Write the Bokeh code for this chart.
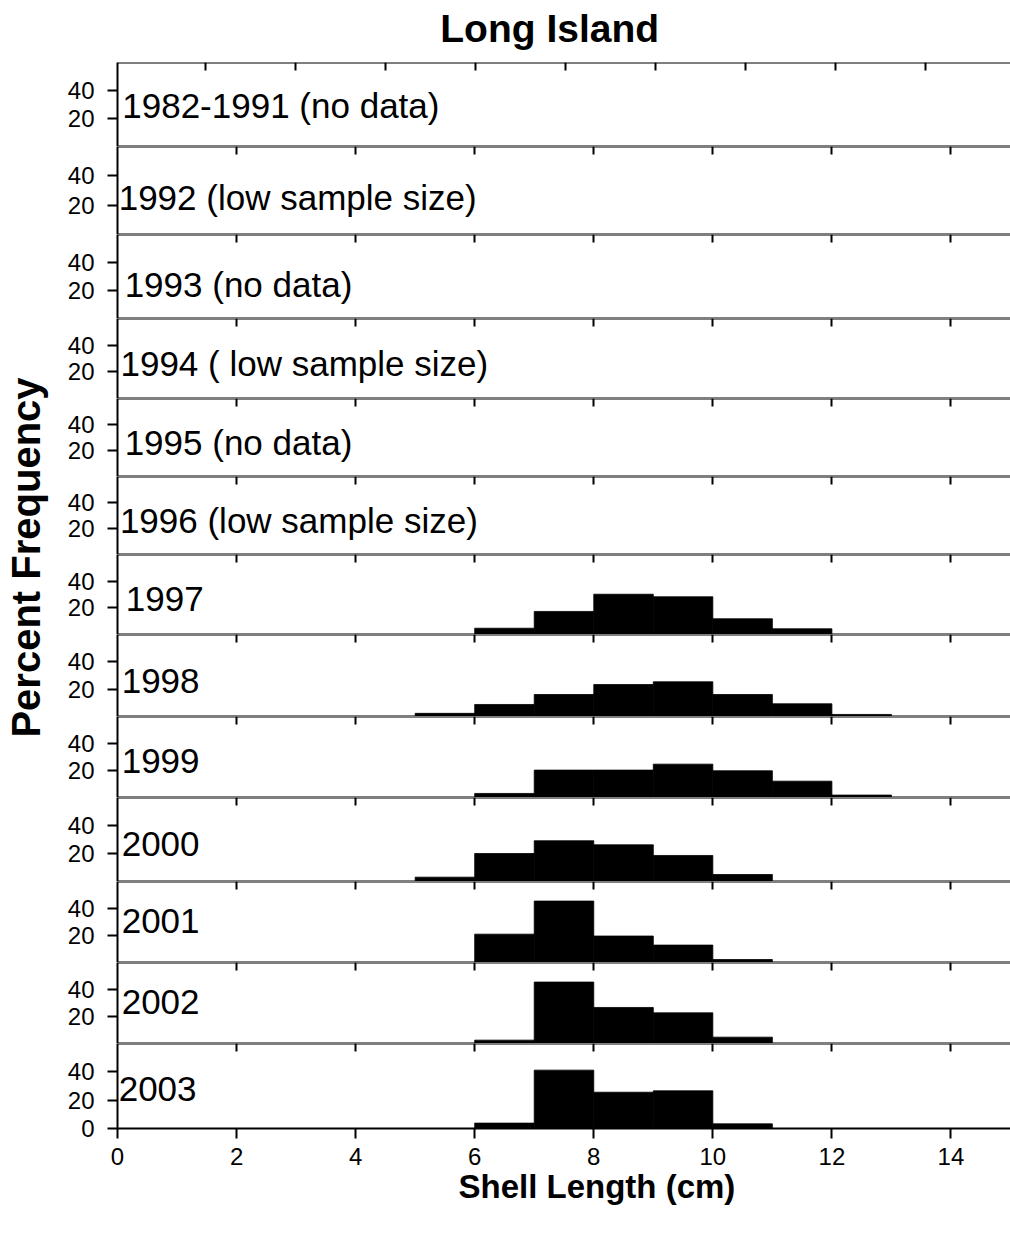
from bokeh.plotting import figure
from bokeh.layouts import column, row
from bokeh.models import Range1d, FixedTicker, LinearAxis, Title
from bokeh.core.properties import value
from bokeh.embed import file_html
from bokeh.resources import INLINE
from bokeh.core.validation import silence
from bokeh.core.validation.warnings import MISSING_RENDERERS

silence(MISSING_RENDERERS, True)

# Shell-length bins (cm), left edges of 1 cm classes
bin_left = [5, 6, 7, 8, 9, 10, 11, 12]

# Percent frequency per bin, by sampling year
f1997 = [0.0, 4.7, 17.3, 30.2, 28.3, 11.8, 4.3, 0.0]
f1998 = [2.3, 8.8, 16.1, 23.4, 25.4, 16.1, 9.3, 1.5]
f1999 = [0.0, 3.0, 20.3, 20.3, 24.7, 19.8, 12.1, 1.8]
f2000 = [3.1, 20.0, 29.1, 26.2, 18.6, 5.0, 0.0, 0.0]
f2001 = [0.0, 21.0, 45.5, 19.6, 12.9, 2.2, 0.0, 0.0]
f2002 = [0.0, 2.5, 45.5, 26.7, 22.7, 4.7, 0.0, 0.0]
f2003 = [0.0, 3.8, 41.2, 25.6, 26.6, 3.3, 0.0, 0.0]
empty = [0.0] * len(bin_left)

panel_labels = [
    "1982-1991 (no data)",
    "1992 (low sample size)",
    "1993 (no data)",
    "1994 ( low sample size)",
    "1995 (no data)",
    "1996 (low sample size)",
    "1997", "1998", "1999", "2000", "2001", "2002", "2003",
]
panel_series = [empty, empty, empty, empty, empty, empty,
                f1997, f1998, f1999, f2000, f2001, f2002, f2003]

x_ticks = [0, 2, 4, 6, 8, 10, 12, 14]
top_ticks_first = [1.48, 2.99, 4.50, 6.02, 7.53, 9.04, 10.55, 12.06, 13.57]
top_ticks = [2, 4, 6, 8, 10, 12, 14]
y_ticks = [20, 40]
y_ticks_last = [0, 20, 40]

title_text = "Long Island"
x_title = "Shell Length (cm)"
y_title = "Percent Frequency"

# Layout settings
FONT = "Liberation Sans"
frame_heights = [84, 88, 84, 80, 78, 78, 80, 82, 81, 84, 81, 81, 85]
label_pos = [(0.08, 29.3), (0.02, 25.2), (0.12, 24.3), (0.05, 26.3), (0.12, 26.2),
             (0.04, 26.2), (0.14, 27.0), (0.07, 26.3), (0.07, 27.4), (0.07, 27.1),
             (0.07, 31.1), (0.07, 30.4), (0.02, 28.2)]
TOTAL_H = 1233
YLAB_W = 60
LEFT = 117 - YLAB_W
FRAME_W = 893
TITLE_H = 62
BOTTOM_H = TOTAL_H - TITLE_H - sum(frame_heights)


def plain_axis(ticks, tick_in=0, tick_out=0, fixed=None):
    """Black axis line with optional ticks and no tick labels."""
    ax = LinearAxis(ticker=FixedTicker(ticks=ticks),
                    major_tick_in=tick_in, major_tick_out=tick_out,
                    minor_tick_in=0, minor_tick_out=0,
                    axis_line_width=2, axis_line_color="black",
                    major_tick_line_width=2, major_tick_line_color="black",
                    major_label_text_color=None, major_label_standoff=0)
    if fixed is not None:
        ax.fixed_location = fixed
    return ax


x_range = Range1d(0, 15)

# chart title strip, sharing the panels' x scale
title_fig = figure(frame_width=FRAME_W, frame_height=TITLE_H,
                   x_range=x_range, y_range=Range1d(0, TITLE_H),
                   output_backend="svg", toolbar_location=None,
                   x_axis_location=None, y_axis_location=None,
                   min_border_left=LEFT, min_border_right=0,
                   min_border_top=0, min_border_bottom=0,
                   outline_line_color=None,
                   background_fill_color="white", border_fill_color="white")
title_fig.grid.visible = False
title_fig.text(x=[7.26], y=[TITLE_H - 28], text=[title_text], text_font=value(FONT),
               text_font_size="39px", text_font_style="bold", text_color="black",
               text_align="center", text_baseline="middle")

panels = []
for i, (label, vals) in enumerate(zip(panel_labels, panel_series)):
    last = i == len(panel_labels) - 1
    p = figure(frame_width=FRAME_W, frame_height=frame_heights[i],
               x_range=x_range, y_range=Range1d(0, 60),
               output_backend="svg", toolbar_location=None,
               x_axis_location=None, y_axis_location="left",
               min_border_left=LEFT, min_border_right=0,
               min_border_top=0, min_border_bottom=BOTTOM_H if last else 0,
               outline_line_color=None,
               background_fill_color="white", border_fill_color="white")
    p.grid.visible = False

    # histogram bars
    right = [b + 1 for b in bin_left]
    p.quad(left=bin_left, right=right, bottom=0, top=vals,
           fill_color="black", line_color="black", line_width=0.8)

    # panel caption
    lx, ly = label_pos[i]
    p.text(x=[lx], y=[ly], text=[label], text_font=value(FONT),
           text_font_size="35px", text_baseline="middle", text_align="left",
           text_color="black")

    # y axis
    ya = p.yaxis[0]
    ya.ticker = FixedTicker(ticks=y_ticks_last if last else y_ticks)
    ya.major_tick_out = 10
    ya.major_tick_in = 0
    ya.minor_tick_out = 0
    ya.minor_tick_in = 0
    ya.axis_line_width = 2
    ya.axis_line_color = "black"
    ya.major_tick_line_width = 2
    ya.major_tick_line_color = "black"
    ya.major_label_text_font = FONT
    ya.major_label_text_font_size = "24px"
    ya.major_label_text_color = "black"
    ya.major_label_standoff = 13

    # top edge with inward ticks
    p.add_layout(plain_axis(top_ticks_first if i == 0 else top_ticks,
                            tick_in=8, fixed=60), "above")

    if not last:
        # bottom edge as a plain rule
        p.add_layout(plain_axis([], fixed=0), "below")
    else:
        xa = LinearAxis(ticker=FixedTicker(ticks=x_ticks),
                        major_tick_in=0, major_tick_out=10,
                        minor_tick_in=0, minor_tick_out=0,
                        axis_line_width=2, axis_line_color="black",
                        major_tick_line_width=2, major_tick_line_color="black",
                        major_label_text_font=FONT,
                        major_label_text_font_size="24px",
                        major_label_text_color="black",
                        major_label_standoff=9)
        p.add_layout(xa, "below")
        p.add_layout(Title(text=x_title, align="left", offset=341,
                           vertical_align="top", standoff=0,
                           text_font=FONT, text_font_size="33px",
                           text_font_style="bold", text_color="black"), "below")
    panels.append(p)

# y-axis title in its own narrow strip
ylab = figure(width=YLAB_W, height=TOTAL_H, output_backend="svg",
              toolbar_location=None, x_axis_location=None, y_axis_location=None,
              min_border_left=0, min_border_right=0, min_border_top=0,
              min_border_bottom=TOTAL_H - 1114, outline_line_color=None)
ylab.grid.visible = False
ylab.add_layout(Title(text=y_title, align="center",
                      vertical_align="middle", text_font=FONT,
                      text_font_size="40px", text_font_style="bold",
                      text_color="black", standoff=4), "left")

layout = row(ylab, column(title_fig, *panels, spacing=0), spacing=0)
open("out.html", "w").write(file_html(layout, INLINE))
